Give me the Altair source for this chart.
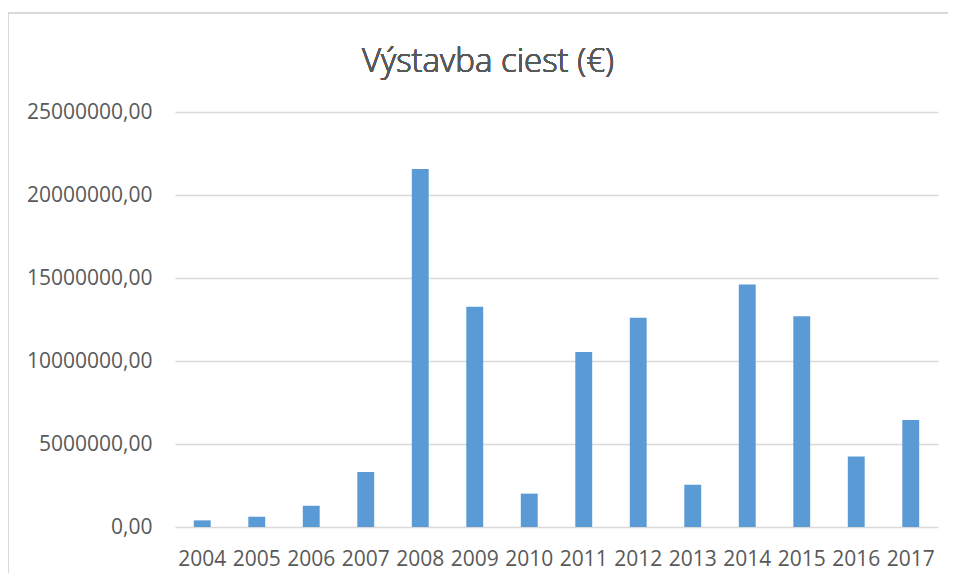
import altair as alt
import pandas as pd

years = ["2004", "2005", "2006", "2007", "2008", "2009", "2010",
         "2011", "2012", "2013", "2014", "2015", "2016", "2017"]
values = [400000, 620000, 1280000, 3310000, 21570000, 13270000, 2010000,
          10540000, 12610000, 2550000, 14610000, 12690000, 4250000, 6450000]
y_ticks = [0, 5000000, 10000000, 15000000, 20000000, 25000000]
title_text = "Výstavba ciest (€)"

df = pd.DataFrame({"rok": years, "hodnota": values})

FONT = "Open Sans"
GRID = "#D9D9D9"
TXT = "#595959"

bars = alt.Chart(df).mark_bar(color="#5B9BD5").encode(
    x=alt.X("rok:N", sort=years, title=None,
            scale=alt.Scale(paddingInner=0.69, paddingOuter=0.345),
            axis=alt.Axis(labelAngle=0, ticks=False, domain=False,
                          labelPadding=21, labelFontSize=21,
                          labelColor=TXT, labelFont=FONT)),
    y=alt.Y("hodnota:Q", title=None,
            scale=alt.Scale(domain=[0, 25000000], nice=False),
            axis=alt.Axis(values=y_ticks, ticks=False, domain=False,
                          grid=True, gridColor=GRID, gridWidth=1.3,
                          labelPadding=23, labelFontSize=21,
                          labelColor=TXT, labelFont=FONT,
                          labelExpr="replace(format(datum.value, '.2f'), '.', ',')")),
)

frame_top = alt.Chart(df).mark_rule(color=GRID, strokeWidth=1.5).encode(
    x=alt.value(-167), x2=alt.value(800), y=alt.value(-99)
)
frame_left = alt.Chart(df).mark_rule(color=GRID, strokeWidth=1.5).encode(
    x=alt.value(-167), y=alt.value(-99), y2=alt.value(500)
)
title = alt.Chart(df).mark_text(
    font=FONT, fontSize=33, fontWeight=300, color=TXT,
    align="center", baseline="middle"
).encode(
    x=alt.value(313), y=alt.value(-50), text=alt.value(title_text)
)

chart = alt.layer(frame_top, frame_left, bars, title).properties(
    width=763,
    height=415,
    autosize=alt.AutoSizeParams(type="none"),
    padding={"left": 167, "top": 104, "right": 10, "bottom": 46},
).configure(background="white").configure_view(stroke=None)

chart.save("out.html", embed_options={"renderer": "svg", "actions": False})
